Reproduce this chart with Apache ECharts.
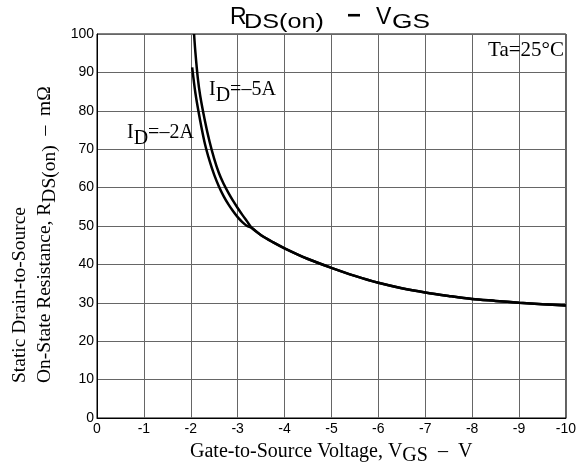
<!DOCTYPE html>
<html>
<head>
<meta charset="utf-8">
<script src="https://cdn.jsdelivr.net/npm/echarts@6/dist/echarts.min.js"></script>
<style>html,body{margin:0;padding:0;background:#fff;}#c{width:579px;height:464px;}</style>
</head>
<body>
<div id="c"></div>
<script>
// ---- data ----
const xTicks = [0, -1, -2, -3, -4, -5, -6, -7, -8, -9, -10];
const yTicks = [0, 10, 20, 30, 40, 50, 60, 70, 80, 90, 100];
// ID = -2A (steep part, left curve)
const vgsID2 = [-2.03, -2.1, -2.2, -2.3, -2.4, -2.5, -2.6, -2.7, -2.8, -2.9, -3.0, -3.1, -3.2, -3.3];
const rdsID2 = [91.3, 84.5, 77.5, 71.5, 67.0, 63.3, 60.3, 57.8, 55.7, 53.9, 52.3, 51.0, 50.0, 49.5];
// ID = -5A (steep part, right curve)
const vgsID5 = [-2.07, -2.1, -2.15, -2.2, -2.3, -2.4, -2.5, -2.6, -2.7, -2.8, -2.9, -3.0, -3.1, -3.2, -3.3];
const rdsID5 = [100, 95.0, 88.5, 84.0, 77.5, 72.0, 67.5, 63.8, 61.0, 58.7, 56.6, 54.7, 52.9, 51.2, 49.5];
// common part (both currents coincide)
const vgsCommon = [-3.3, -3.5, -3.75, -4, -4.5, -5, -5.5, -6, -6.5, -7, -7.5, -8, -8.5, -9, -9.5, -10];
const rdsCommon = [49.5, 47.6, 45.8, 44.2, 41.4, 39.1, 37.0, 35.2, 33.8, 32.7, 31.8, 31.0, 30.5, 30.0, 29.6, 29.3];

function pts(xs, ys) { return xs.map((x, i) => [x, ys[i]]); }
const dataID2 = pts(vgsID2, rdsID2).concat(pts(vgsCommon, rdsCommon).slice(1));
const dataID5 = pts(vgsID5, rdsID5).concat(pts(vgsCommon, rdsCommon).slice(1));

const serif = '"Liberation Serif", "Times New Roman", serif';
const sans = '"Liberation Sans", Arial, sans-serif';

function rich(size, lh, sublh) {
  return {
    b: {fontFamily: serif, fontSize: size, lineHeight: lh, verticalAlign: 'top', fill: '#000', color: '#000'},
    s: {fontFamily: serif, fontSize: size, lineHeight: sublh, verticalAlign: 'bottom', fill: '#000', color: '#000'}
  };
}

function rtext(x, y, text, r, opts) {
  return Object.assign({
    type: 'text', x: x, y: y, z: 100,
    style: {text: text, rich: r, align: 'left', textAlign: 'left', verticalAlign: 'top', textVerticalAlign: 'top', fill: '#000'}
  }, opts || {});
}
function ptext(x, y, text, font, opts, align) {
  return Object.assign({
    type: 'text', x: x, y: y, z: 100,
    style: {text: text, font: font, align: align || 'left', textAlign: align || 'left', verticalAlign: 'middle', textVerticalAlign: 'middle', fill: '#000'}
  }, opts || {});
}

const chart = echarts.init(document.getElementById('c'));
chart.setOption({
  animation: false,
  backgroundColor: '#fff',
  grid: {left: 97, right: 13, top: 34, bottom: 46, show: true, borderColor: '#000', borderWidth: 1},
  xAxis: {
    type: 'value', min: xTicks[xTicks.length - 1], max: xTicks[0], interval: 1, inverse: true,
    axisLine: {show: true, lineStyle: {color: '#000', width: 1}},
    axisTick: {show: false},
    splitLine: {show: true, lineStyle: {color: '#666', width: 1}},
    axisLabel: {color: '#000', fontFamily: sans, fontSize: 14, margin: 4,
      formatter: v => String(v)}
  },
  yAxis: {
    type: 'value', min: yTicks[0], max: yTicks[yTicks.length - 1], interval: 10,
    axisLine: {show: true, lineStyle: {color: '#000', width: 1}},
    axisTick: {show: false},
    splitLine: {show: true, lineStyle: {color: '#666', width: 1}},
    axisLabel: {color: '#000', fontFamily: sans, fontSize: 14, margin: 3}
  },
  series: [
    {name: 'ID=-2A', type: 'line', data: dataID2, smooth: 0.3, showSymbol: false,
     lineStyle: {color: '#000', width: 2.5}, z: 3},
    {name: 'ID=-5A', type: 'line', data: dataID5, smooth: 0.3, showSymbol: false,
     lineStyle: {color: '#000', width: 2.5}, z: 3}
  ],
  graphic: [
    // title R_DS(on) − V_GS
    ptext(230, 17.5, 'R', '23px ' + sans),
    ptext(244, 22.5, 'DS(on)', '21px ' + sans, {scaleX: 1.2}),
    ptext(354, 16, '−', 'bold 24px ' + sans, {}, 'center'),
    ptext(376, 17.5, 'V', '23px ' + sans),
    ptext(392, 22.5, 'GS', '21px ' + sans, {scaleX: 1.25}),
    // Ta
    ptext(564, 50, 'Ta=25°C', '21px ' + serif, {}, 'right'),
    // curve labels
    rtext(209, 80, '{b|I}{s|D}{b|=–5A}', rich(20, 20, 26)),
    rtext(127, 123, '{b|I}{s|D}{b|=–2A}', rich(20, 20, 26)),
    // x axis name
    rtext(190, 441.5, '{b|Gate-to-Source Voltage, V}{s|GS}{b|  –  V}', rich(20, 20, 24)),
    // y axis name (rotated)
    rtext(10, 383, '{b|Static Drain-to-Source}', rich(19.5, 20, 20), {rotation: Math.PI / 2}),
    rtext(35, 383, '{b|On-State Resistance, R}{s|DS(on)}{b|  –  mΩ}', rich(19.5, 20, 25), {rotation: Math.PI / 2})
  ]
});
</script>
</body>
</html>
